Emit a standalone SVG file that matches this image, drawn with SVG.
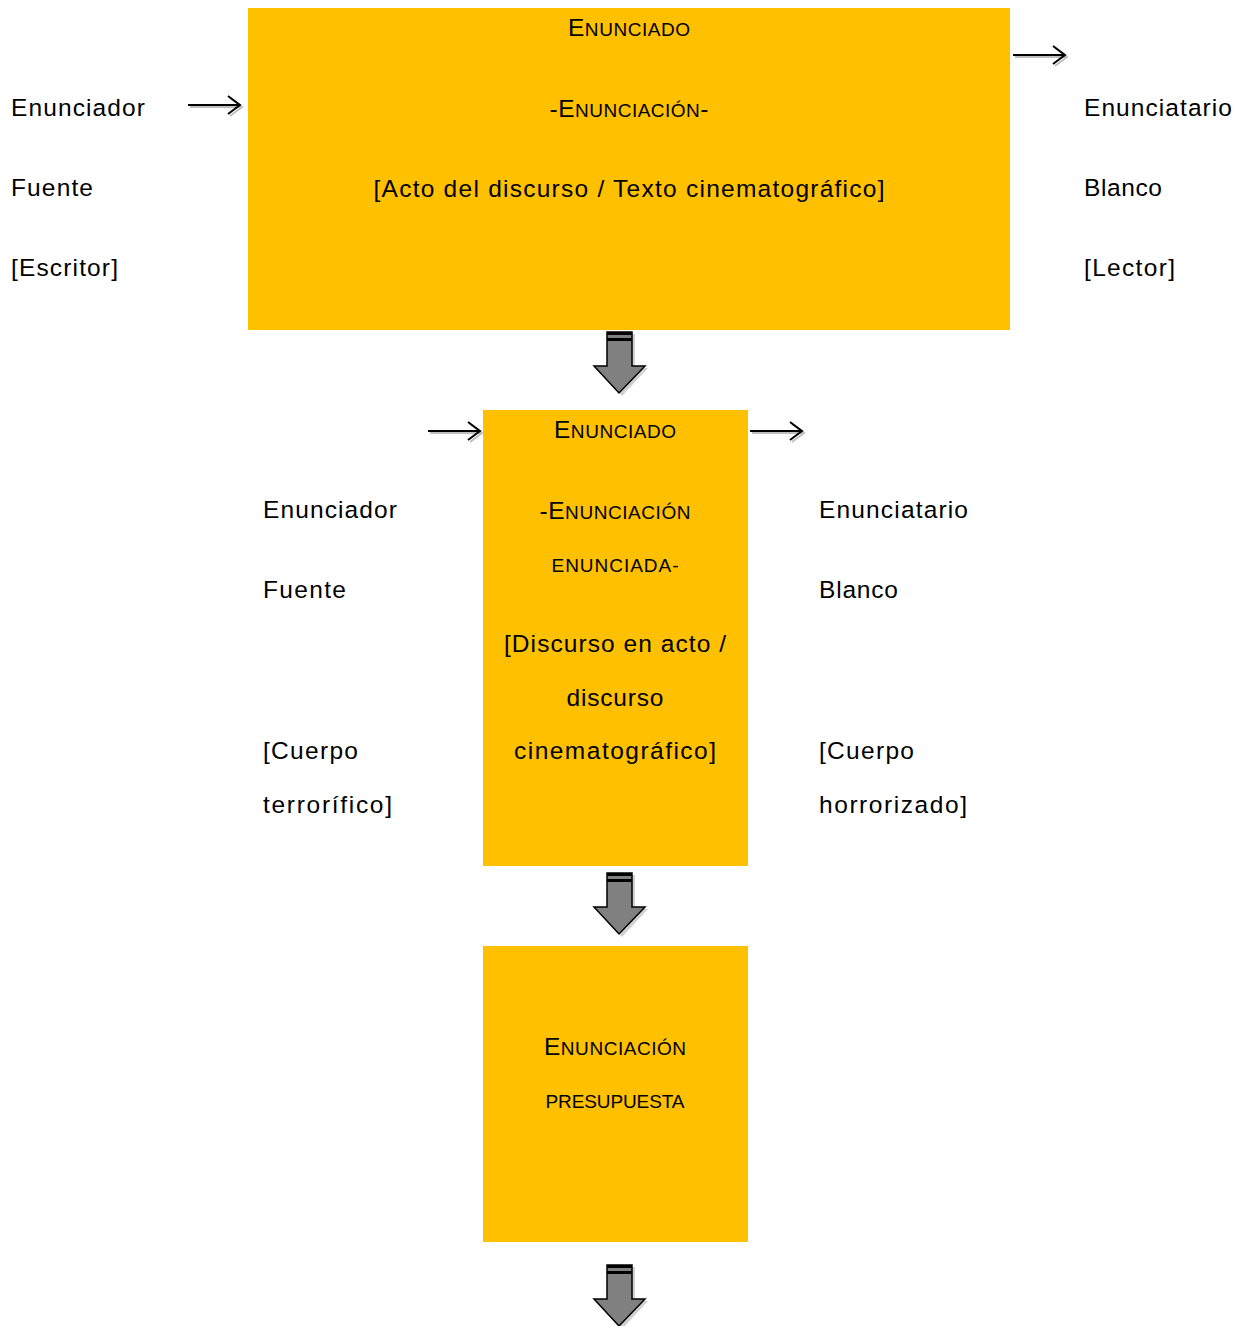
<svg xmlns="http://www.w3.org/2000/svg" width="1241" height="1326" viewBox="0 0 1241 1326">
<defs>
<style>
.box{fill:#FFC000}
.t{font-family:"Liberation Sans",Arial,sans-serif;font-size:24.5px;fill:#000}
.c{text-anchor:middle}
.sc{font-size:19px}
.ar{fill:none;stroke:#000;stroke-width:2}
.sh{fill:none;stroke:#BFBFBF;stroke-width:2}
.blk{fill:#808080;stroke:#000;stroke-width:1.5}
.bsh{fill:#D0D0D0}
</style>
<g id="smallArrow">
<path class="sh" d="M2 2H54M42 -7L54 2L42 11"/>
<path class="ar" d="M0 0H52M40 -9L52 0L40 9"/>
</g>
<g id="blockArrow">
<path class="bsh" d="M16 2H41V36H54L28 64L2 36H16Z"/>
<path class="blk" d="M13 0H38V34H51L25 61L0 34H13Z"/>
<rect x="13" y="0" width="25" height="3" fill="#000"/>
<rect x="13" y="6" width="25" height="3" fill="#000"/>
</g>
</defs>
<rect width="1241" height="1326" fill="#fff"/>

<g id="node-box1">
<rect class="box" x="248" y="8" width="762" height="322"/>
<text class="t c" x="629" y="36" textLength="122"><tspan>E</tspan><tspan class="sc">NUNCIADO</tspan></text>
<text class="t c" x="629" y="117" textLength="159">-E<tspan class="sc">NUNCIACIÓN</tspan>-</text>
<text class="t c" x="629" y="197" textLength="511">[Acto del discurso / Texto cinematográfico]</text>
</g>

<g id="node-left1">
<text class="t" x="11" y="116" textLength="134">Enunciador</text>
<text class="t" x="11" y="196" textLength="82">Fuente</text>
<text class="t" x="11" y="276" textLength="107">[Escritor]</text>
</g>

<g id="node-right1">
<text class="t" x="1084" y="116" textLength="148">Enunciatario</text>
<text class="t" x="1084" y="196" textLength="78">Blanco</text>
<text class="t" x="1084" y="276" textLength="91">[Lector]</text>
</g>

<g id="node-box2">
<rect class="box" x="483" y="410" width="265" height="456"/>
<text class="t c" x="615" y="438" textLength="122">E<tspan class="sc">NUNCIADO</tspan></text>
<text class="t c" x="615" y="519" textLength="151">-E<tspan class="sc">NUNCIACIÓN</tspan></text>
<text class="t c sc" x="615" y="572" textLength="127">ENUNCIADA-</text>
<text class="t c" x="615" y="652" textLength="222">[Discurso en acto /</text>
<text class="t c" x="615" y="706" textLength="97">discurso</text>
<text class="t c" x="615" y="759" textLength="202">cinematográfico]</text>
</g>

<g id="node-left2">
<text class="t" x="263" y="518" textLength="134">Enunciador</text>
<text class="t" x="263" y="598" textLength="83">Fuente</text>
<text class="t" x="263" y="759" textLength="95">[Cuerpo</text>
<text class="t" x="263" y="813" textLength="129">terrorífico]</text>
</g>

<g id="node-right2">
<text class="t" x="819" y="518" textLength="149">Enunciatario</text>
<text class="t" x="819" y="598" textLength="79">Blanco</text>
<text class="t" x="819" y="759" textLength="95">[Cuerpo</text>
<text class="t" x="819" y="813" textLength="148">horrorizado]</text>
</g>

<g id="node-box3">
<rect class="box" x="483" y="946" width="265" height="296"/>
<text class="t c" x="615" y="1055" textLength="142">E<tspan class="sc">NUNCIACIÓN</tspan></text>
<text class="t c sc" x="615" y="1108" textLength="139">PRESUPUESTA</text>
</g>

<g id="connectors">
<use href="#smallArrow" x="188" y="105"/>
<use href="#smallArrow" x="1013" y="55"/>
<use href="#smallArrow" x="428" y="431"/>
<use href="#smallArrow" x="750" y="431"/>
<use href="#blockArrow" x="594" y="332"/>
<use href="#blockArrow" x="594" y="873"/>
<use href="#blockArrow" x="594" y="1265"/>
</g>
</svg>
